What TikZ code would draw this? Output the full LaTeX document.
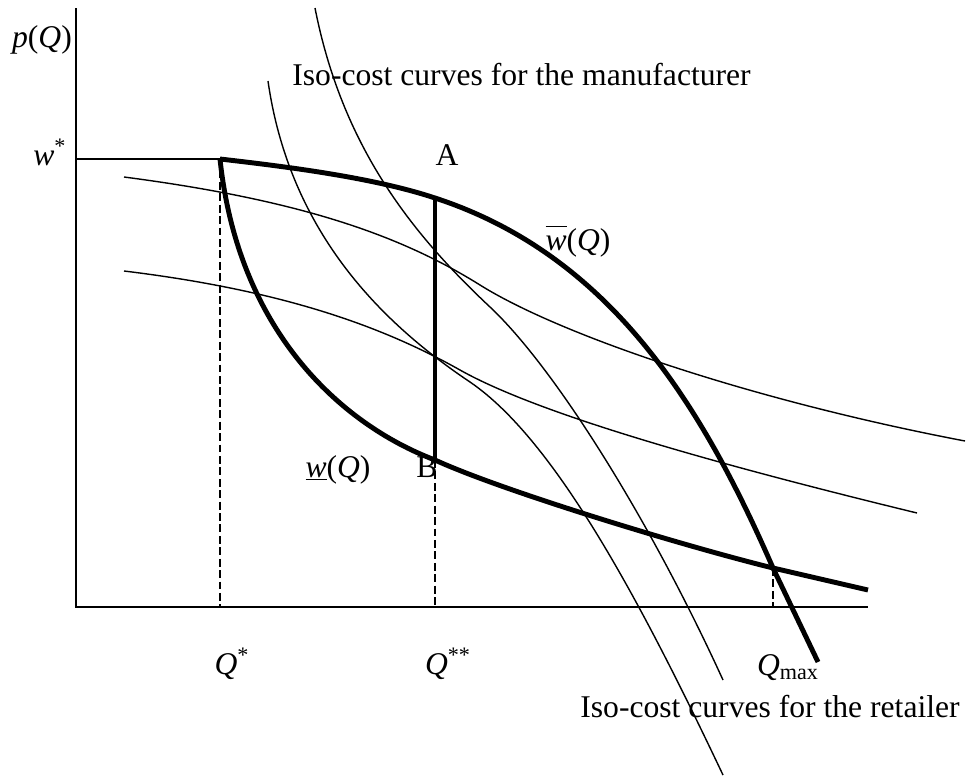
\documentclass[tikz,border=0pt]{standalone}
\usepackage{fontspec}
\setmainfont{Liberation Serif}
\begin{document}
\begin{tikzpicture}[x=0.02cm,y=-0.02cm,font=\fontsize{18}{21}\selectfont,
  epais/.style={line width=2.8pt},%courbes w
  fin/.style={line width=0.8pt},%courbes iso-cout
  tirets/.style={line width=0.8pt,dash pattern=on 4.5pt off 2pt}]
\useasboundingbox (0,0) rectangle (967,775);
\coordinate (O) at (76,607);%origine
\coordinate (Yh) at (76,8);%haut axe p
\coordinate (Xd) at (868,607);%bout axe Q
\coordinate (W) at (220,159);%point w*
\coordinate (A) at (435,198);
\coordinate (B) at (435,460);
\coordinate (X) at (773,568);%Qmax
\newcommand{\Wsup}{(W) .. controls (290,167) and (375,178) .. (A) .. controls (610,255) and (702,405) .. (X) -- (818,662)}%w barre
\newcommand{\Winf}{(W) .. controls (238,330) and (340,424) .. (B) .. controls (500,490) and (680,545) .. (X) -- (868,590)}%w souligne
\draw[line width=1pt] (Yh) -- (O) -- (Xd);%axes
\draw[fin] (O |- W) -- (W);%niveau w*
\draw[tirets] (W) -- (W |- O);
\draw[tirets] (B) -- (B |- O);
\draw[tirets] (X) -- (X |- O);
\draw[fin] (124,177) .. controls (300,200) and (400,235) .. (480,285) .. controls (560,335) and (750,400) .. (965,441);%detaillant 1
\draw[fin] (124,271) .. controls (280,290) and (380,325) .. (460,370) .. controls (540,415) and (720,465) .. (917,513);%detaillant 2
\draw[fin] (268,81) .. controls (290,235) and (385,325) .. (470,382) .. controls (555,440) and (640,600) .. (723,775);%fabricant 1
\draw[fin] (315,8) .. controls (342,145) and (410,232) .. (490,307) .. controls (555,368) and (650,520) .. (723,680);%fabricant 2
\draw[epais] \Wsup;
\draw[epais] \Winf;
\draw[epais] (A) -- (B);
\node[anchor=base] (pQ) at (42,47) {\textit{p}(\textit{Q})};
\node[anchor=base west,inner sep=0pt] (ws) at (33,165) {\textit{w}\textsuperscript{*}};
\node[anchor=base] (lA) at (447,165) {A};
\node[anchor=base] (lB) at (427,477) {B};
\node[anchor=base] (wb) at (578,250) {$\overline{\mbox{\textit{w}}\vphantom{A}}$(\textit{Q})};
\node[anchor=base] (wu) at (338,477) {\underline{\textit{w}}(\textit{Q})};
\node[anchor=base] (Q1) at (232,674) {\textit{Q}\textsuperscript{*}};
\node[anchor=base] (Q2) at (448,674) {\textit{Q}\textsuperscript{**}};
\node[anchor=base] (Q3) at (788,675) {\textit{Q}\textsubscript{max}};
\node[anchor=base west,inner sep=0pt] (fab) at (292,85) {Iso-cost curves for the manufacturer};
\node[anchor=base west,inner sep=0pt] (det) at (580,717) {Iso-cost curves for the retailer};
\end{tikzpicture}
\end{document}
